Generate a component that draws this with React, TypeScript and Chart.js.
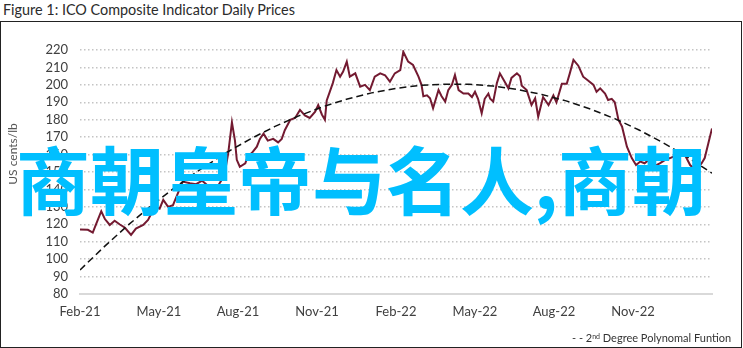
import React, { useEffect, useRef } from "react";
import { Chart, registerables } from "chart.js";

Chart.register(...registerables);

// Quarterly tick labels (every 13 weeks from Feb-21)
const xTickLabels = ["Feb-21", "May-21", "Aug-21", "Nov-21", "Feb-22", "May-22", "Aug-22", "Nov-22"];

// ICO composite indicator: weeks since 1 Feb 2021, US cents/lb
const priceWeeks = [
  0, 1.3, 2.1, 2.6, 3.5, 4.1, 4.9, 5.7, 6.5, 7.4,
  8.4, 9.2, 10.4, 11.2, 12.3, 13.1, 13.7, 14.5, 15.3, 16.1,
  16.9, 18.1, 19.1, 20.1, 21.1, 22.2, 22.7, 23.3, 23.9, 24.4,
  25.0, 25.5, 25.8, 26.3, 27.2, 27.6, 28.3, 29.1, 29.6, 30.2,
  30.9, 31.8, 32.6, 33.2, 33.7, 34.6, 35.4, 36.2, 37.0, 37.8,
  38.7, 39.2, 39.8, 40.3, 40.6, 41.1, 41.6, 42.2, 42.8, 43.3,
  43.9, 44.4, 45.3, 46.1, 46.9, 47.7, 48.5, 49.4, 50.2, 51.0,
  51.8, 52.7, 53.2, 54.0, 54.8, 55.7, 56.2, 56.5, 57.1, 57.6,
  58.1, 59.0, 59.5, 60.1, 60.6, 61.2, 61.7, 62.3, 63.1, 63.9,
  64.5, 65.0, 65.5, 66.1, 66.6, 67.2, 67.5, 68.0, 68.6, 69.1,
  69.7, 70.5, 71.0, 71.9, 72.4, 72.7, 73.5, 74.3, 74.9, 75.4,
  76.2, 77.1, 77.9, 78.4, 79.3, 80.1, 80.6, 81.2, 82.0, 82.8,
  83.6, 84.5, 85.0, 85.6, 86.4, 86.9, 87.5, 88.0, 88.6, 89.2,
  90.0, 90.8, 91.5, 92.2, 92.9, 93.8, 94.3, 95.4, 96.3, 97.1,
  98.4, 99.2, 99.8, 100.4, 101.0, 101.3, 101.8, 102.3, 102.8, 103.4,
  104.0,
];
const priceValues = [
  117, 116.8, 115.2, 119.6, 127.5, 123, 119.6, 122, 120, 118,
  113.9, 117.5, 119.6, 122.5, 130.1, 129, 134, 130, 131, 137.8,
  144.5, 143.5, 143, 145, 142, 140, 142, 145.4, 151, 161,
  178.5, 168, 157, 153, 155, 159, 161, 164.5, 169, 172,
  168, 169, 167, 169, 174, 180, 181, 185.6, 182.5, 181,
  184.6, 188.4, 183, 180, 191, 196, 201, 208.5, 204.7, 207.6,
  213.3, 204.7, 206.6, 199, 200, 197, 204.7, 206.6, 205.5, 201.8,
  206.6, 208.5, 219, 213.3, 211.4, 204.7, 200, 193.5, 194, 192.3,
  186.5, 197, 193.5, 190.4, 197, 200, 205.7, 197, 195, 195,
  193, 196, 192, 183.7, 192, 195, 192, 190.4, 201, 206.6,
  203, 198, 204, 206.6, 205, 199.5, 197, 188.4, 192.3, 181.7,
  193, 188.4, 194, 190, 200.6, 200.6, 206.6, 214.3, 211, 204.7,
  202.5, 200, 196, 198, 195, 191.3, 192, 190, 180, 176,
  164.5, 158, 154, 156, 155, 157.5, 153, 155, 157, 158,
  160, 161.7, 158, 154, 152, 145.4, 153, 155, 158, 166.5,
  175,
];

// 2nd degree polynomial trend
const trendWeeks = [0, 4, 8, 12, 16, 20, 24, 28, 32, 36, 40, 44, 48, 52, 56, 60, 64, 68, 72, 76, 80, 84, 88, 92, 96, 100, 104];
const trendValues = [
  93.8, 107.2, 119.8, 131.4, 142.1, 152.0, 160.9, 168.9, 176.0, 182.2,
  187.5, 191.9, 195.4, 198.0, 199.7, 200.4, 200.3, 199.3, 197.3, 194.5,
  190.8, 186.1, 180.6, 174.1, 166.7, 158.5, 149.3,
];

const FONT = "Lato, 'Open Sans', sans-serif";

export default function App() {
  const ref = useRef<HTMLCanvasElement>(null);

  useEffect(() => {
    if (!ref.current) return;
    const chart = new Chart(ref.current, {
      type: "line",
      data: {
        datasets: [
          {
            label: "2nd Degree Polynomal Funtion",
            data: trendWeeks.map((w, i) => ({ x: w, y: trendValues[i] })),
            borderColor: "#111111",
            borderWidth: 1.5,
            borderDash: [7, 4],
            pointRadius: 0,
            fill: false,
            order: 0,
          },
          {
            label: "ICO Composite Indicator",
            data: priceWeeks.map((w, i) => ({ x: w, y: priceValues[i] })),
            borderColor: "#731a31",
            borderWidth: 2,
            pointRadius: 0,
            fill: false,
            order: 1,
          },
        ],
      },
      options: {
        animation: false,
        responsive: false,
        maintainAspectRatio: false,
        layout: { padding: { left: 0, right: 31, top: 50, bottom: 0 } },
        plugins: { legend: { display: false }, tooltip: { enabled: false } },
        scales: {
          x: {
            type: "linear",
            min: 0,
            max: 104,
            afterFit: (s: any) => {
              s.height = 54;
            },
            grid: { display: false, drawTicks: false },
            border: { display: true, color: "#d9d9d9", width: 2 },
            ticks: {
              stepSize: 13,
              autoSkip: false,
              maxRotation: 0,
              padding: 10,
              color: "#404040",
              font: { family: FONT, size: 13 },
              callback: (v: any) => xTickLabels[Math.round(Number(v) / 13)] ?? "",
            },
          },
          y: {
            min: 80,
            max: 220,
            afterFit: (s: any) => {
              s.width = 80;
            },
            grid: { color: "#c4c4c4", lineWidth: 1.5, drawTicks: false },
            border: { display: false, dash: [1.5, 2.5] },
            ticks: {
              stepSize: 10,
              autoSkip: false,
              padding: 12,
              color: "#404040",
              font: { family: FONT, size: 13 },
            },
          },
        },
      },
    });
    return () => chart.destroy();
  }, []);

  return (
    <div
      style={{
        position: "fixed",
        left: 0,
        top: 0,
        width: 743,
        height: 348,
        background: "#fff",
        overflow: "hidden",
        fontFamily: FONT,
      }}
    >
      <div
        style={{
          position: "absolute",
          left: 3,
          top: 0,
          fontSize: 14.4,
          lineHeight: "20px",
          color: "#2b2b2b",
          whiteSpace: "nowrap",
        }}
      >
        Figure 1: ICO Composite Indicator Daily Prices
      </div>
      <div
        style={{
          position: "absolute",
          left: 0,
          top: 21,
          width: 742,
          height: 327,
          border: "1.5px solid #222",
          boxSizing: "border-box",
        }}
      />
      <canvas
        ref={ref}
        width={743}
        height={348}
        style={{ position: "absolute", left: 0, top: 0, width: 743, height: 348 }}
      />
      <div
        style={{
          position: "absolute",
          left: 12,
          top: 154,
          transform: "translate(-50%, -50%) rotate(-90deg)",
          fontSize: 12,
          color: "#555",
          whiteSpace: "nowrap",
        }}
      >
        US cents/lb
      </div>
      <div
        style={{
          position: "absolute",
          left: 572,
          top: 330,
          fontSize: 11,
          lineHeight: "16px",
          color: "#333",
          whiteSpace: "nowrap",
        }}
      >
        - - 2<sup style={{ fontSize: 7, verticalAlign: "top", lineHeight: "12px" }}>nd</sup> Degree Polynomal Funtion
      </div>
      <div
        style={{
          position: "absolute",
          left: 16,
          top: 140,
          fontSize: 74,
          lineHeight: "74px",
          fontWeight: 700,
          color: "#00bfff",
          fontFamily: "'Noto Sans CJK SC', sans-serif",
          whiteSpace: "nowrap",
        }}
      >
        商朝皇帝与名人,商朝
      </div>
    </div>
  );
}
